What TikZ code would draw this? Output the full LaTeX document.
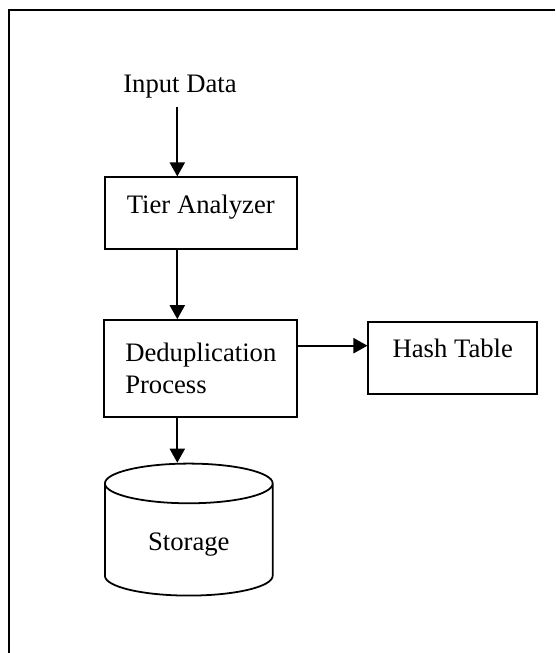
\documentclass[tikz,border=0pt,12pt]{standalone}
\usepackage{fontspec}
\setmainfont{Liberation Serif}
\usetikzlibrary{arrows.meta, shapes.geometric}

\begin{document}
\begin{tikzpicture}[x=0.45pt,y=-0.45pt]
	\tikzstyle{box} = [rectangle,draw=black,line width=0.8pt,align=left]
	\tikzstyle{lift} = [text height=8pt,text depth=8pt]
	\tikzstyle{store} = [cylinder,shape border rotate=90,aspect=0.4,draw=black,line width=0.8pt]
	\tikzstyle{edge} = [-{Triangle[length=6.3pt,width=6.8pt]},line width=0.8pt]
	\useasboundingbox (0,0) rectangle (555,653);
	\draw[line width=0.9pt] (555,9.5) -| (9,653);
	
	\coordinate (axis) at (177.3,0);
	\coordinate (link) at (0,345.7);
	\node (data) at (180,86.3) {Input Data};
	\node[box,lift,minimum width=86.4pt,minimum height=32.4pt] (tier) at (200.8,213.3) {Tier Analyzer};
	\node[box,minimum width=86.85pt,minimum height=43.8pt] (dedup) at (200.8,368.7) {Deduplication\\Process};
	\node[box,lift,minimum width=76pt,minimum height=32.4pt] (hash) at (452.8,357.7) {Hash Table};
	\node[store,minimum width=75.5pt,minimum height=59.4pt] (storage) at (188.8,544.4) {Storage};
	
	\draw[edge] (data.south -| axis)--(tier.north -| axis);
	\draw[edge] (tier.south -| axis)--(dedup.north -| axis);
	\draw[edge] (dedup.east |- link)--(hash.west |- link);
	\draw[edge] (dedup.south -| axis)--(storage.north -| axis);
\end{tikzpicture}
\end{document}
